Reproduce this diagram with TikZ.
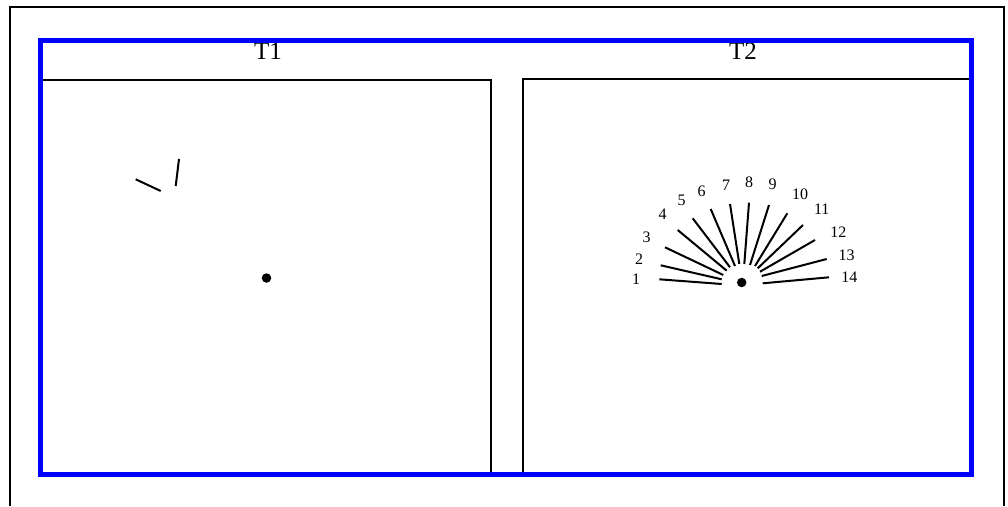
\documentclass[tikz,border=0pt]{standalone}
\usepackage{fontspec}
\setmainfont{Liberation Serif}
\definecolor{frameblue}{RGB}{0,0,255}
\begin{document}
\begin{tikzpicture}[x=1pt,y=-1pt,
  outer/.style={line width=2pt,black},
  panel/.style={line width=1.3pt,black},
  spoke/.style={line width=2pt,black},
  lbl/.style={font=\fontsize{16}{16}\selectfont,inner sep=0pt},
  title/.style={font=\fontsize{25}{25}\selectfont,inner sep=0pt},
  dotstyle/.style={circle,fill=black,inner sep=0pt,minimum size=9.5pt}]
\useasboundingbox (0,0) rectangle (1008,506);
% outer border
\draw[outer] (10,506) -- (10,7) -- (1004,7) -- (1004,506);
% titles
\node[title] (t1) at (268,51) {T1};
\node[title] (t2) at (743,51) {T2};
% panels
\draw[panel] (40,80) -- (491,80) -- (491,474);
\draw[panel] (523,474) -- (523,79) -- (972,79);
% left panel content
\draw[spoke] (135.7,179.3) -- (160.7,191);
\draw[spoke] (179,159) -- (175.7,186);
\node[dotstyle] (d1) at (266.5,278) {};
% right panel content
\node[dotstyle] (d2) at (741.7,282.5) {};
\foreach \ox/\oy/\ix/\iy in {
 659.3/279.3/721.7/284,
 660.7/265.3/721.7/279.3,
 665/247.3/723.3/275,
 677.7/230/726.7/270.7,
 692.7/218.3/730/267.3,
 710.7/209/735/266,
 730/204/739.3/264,
 749/202.7/744.3/264,
 769/205/750/265,
 787.3/213.3/755/266,
 803/225/757.7/268.3,
 815/240/760/271.7,
 826.7/259/761.7/276,
 829/277.3/762.7/283.3}
 \draw[spoke] (\ox,\oy) -- (\ix,\iy);
\foreach \n/\lx/\ly in {
 1/636/279,2/639/259,3/646.7/237.5,4/662.7/214.5,5/681.7/200.7,
 6/701.7/191.7,7/726/185,8/749/182.7,9/772.7/184,10/800/194.3,
 11/821.7/209.3,12/838.3/231.7,13/846.7/255,14/849.3/277.3}
 \node[lbl] (n\n) at (\lx,\ly) {\n};
% blue frame
\draw[frameblue,line width=5pt] (40.5,40.5) rectangle (971.5,474);
\end{tikzpicture}
\end{document}
